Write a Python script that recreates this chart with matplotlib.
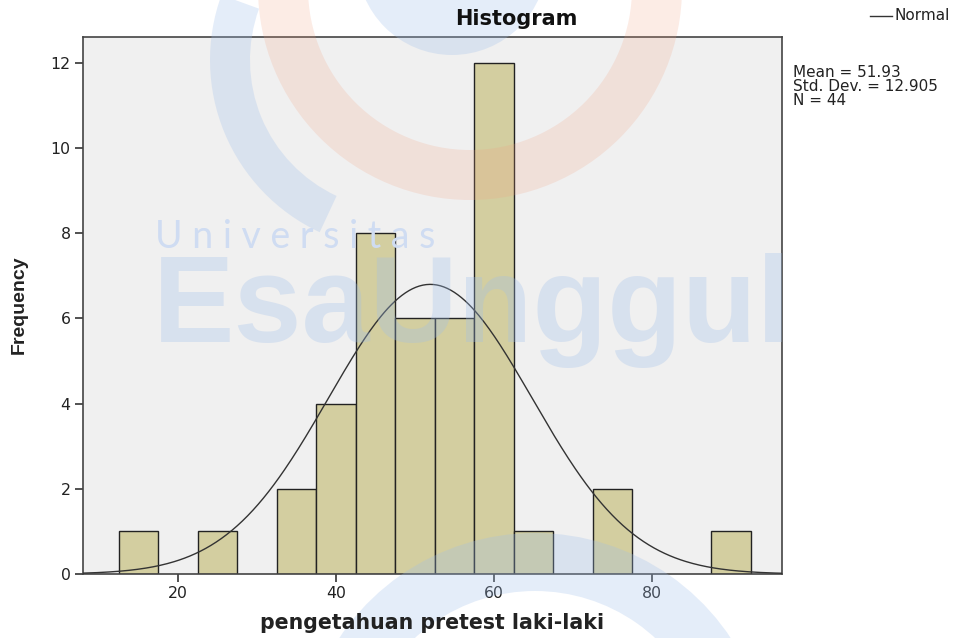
import numpy as np
import matplotlib.pyplot as plt
from matplotlib.patches import Wedge, Circle
from matplotlib.transforms import IdentityTransform

# histogram of pengetahuan pretest laki-laki (SPSS output), bin width 5
bin_centers = [15, 25, 35, 40, 45, 50, 55, 60, 65, 75, 90]
counts = [1, 1, 2, 4, 8, 6, 6, 12, 1, 2, 1]
bin_width = 5
mean = 51.93
std_dev = 12.905
n = 44
x_ticks = [20, 40, 60, 80]
y_ticks = [0, 2, 4, 6, 8, 10, 12]

W, H = 954, 638
plt.rcParams['font.family'] = ['DejaVu Sans']

fig = plt.figure(figsize=(W / 100, H / 100), dpi=100)
ax = fig.add_axes([83 / W, 1 - 574 / H, (782 - 83) / W, (574 - 37) / H])
ax.set_facecolor('#f0f0f0')

ax.bar(bin_centers, counts, width=bin_width, color='#d3cea0',
       edgecolor='#222222', linewidth=1.0, zorder=2)

# normal curve scaled to counts
xs = np.linspace(7.97, 96.46, 400)
pdf = np.exp(-0.5 * ((xs - mean) / std_dev) ** 2) / (std_dev * np.sqrt(2 * np.pi))
ax.plot(xs, pdf * n * bin_width, color='#333333', linewidth=1.0, zorder=3)

ax.set_xlim(7.97, 96.46)
ax.set_ylim(0, 12.61)
ax.set_xticks(x_ticks)
ax.set_yticks(y_ticks)
ax.tick_params(direction='out', length=6, width=1.2, colors='#333333',
               labelsize=11.3, labelcolor='#222222', pad=3)
for sp in ax.spines.values():
    sp.set_color('#444444')
    sp.set_linewidth(1.2)

# titles as figure texts so they sit above the watermark
fig.text(516 / W, 1 - 19 / H, 'Histogram', fontsize=15, fontweight='bold',
         ha='center', va='center', color='#111111', zorder=10)
fig.text(432 / W, 1 - 623 / H, 'pengetahuan pretest laki-laki', fontsize=14.8,
         fontweight='bold', ha='center', va='center', color='#222222', zorder=10)
fig.text(19 / W, 1 - 305 / H, 'Frequency', fontsize=14, fontweight='bold',
         rotation=90, ha='center', va='center', color='#222222', zorder=10,
         family=['Liberation Sans Narrow', 'Liberation Sans'])

# legend + stats box on the right
fig.add_artist(plt.Line2D([870 / W, 892 / W], [1 - 16 / H] * 2,
                          color='#333333', linewidth=1.0,
                          transform=fig.transFigure))
fig.text(895 / W, 1 - 16 / H, 'Normal', fontsize=11, va='center',
         color='#222222')
fig.text(793 / W, 1 - 65 / H,
         f'Mean = {mean:.2f}\nStd. Dev. = {std_dev:.3f}\nN = {n}',
         fontsize=11, va='top', linespacing=0.92, color='#222222')

# faint university watermark over the plot (pixel coords, y from top)
px = IdentityTransform()
blue = '#9fbfeb'
orange = '#f3a080'
marks = [
    Circle((452, H + 40), 95, color=blue, alpha=0.28, lw=0),
    Wedge((470, H + 12), 212, 180, 360, width=50, color=orange, alpha=0.2, lw=0),
    Wedge((400, H - 60), 190, 160, 245, width=40, color=blue, alpha=0.28, lw=0),
    Wedge((535, -130), 235, 20, 160, width=58, color=blue, alpha=0.28, lw=0),
]
for m in marks:
    m.set_transform(px)
    m.set_zorder(5)
    fig.add_artist(m)

fig.text(155 / W, 1 - 237 / H, 'U n i v e r s i t a s', fontsize=27,
         family=['Lato', 'DejaVu Sans'], color='#cfdcf2',
         va='center', zorder=6)
fig.text(153 / W, 1 - 310 / H, 'EsaUnggul', fontsize=88, fontweight='bold',
         family=['Liberation Sans Narrow', 'Liberation Sans'], color=blue,
         alpha=0.3, va='center', zorder=6)

fig.savefig('out.png', dpi=100)
